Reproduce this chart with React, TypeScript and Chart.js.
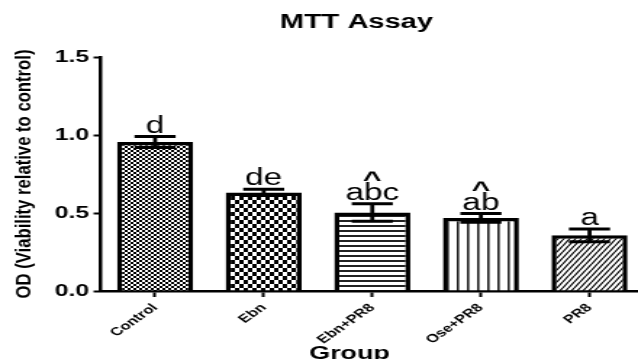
import React, { useEffect, useRef } from 'react';
import { Chart, registerables } from 'chart.js';

Chart.register(...registerables);

// ---- data ----
const categories = ['Control', 'Ebn', 'Ebn+PR8', 'Ose+PR8', 'PR8'];
const means = [0.955, 0.632, 0.503, 0.468, 0.357];
const errors = [0.035, 0.02, 0.056, 0.028, 0.041];
const letters = ['d', 'de', 'abc', 'ab', 'a'];
const carets = ['', '', '^', '^', ''];
const yTicks = [0, 0.5, 1.0, 1.5];
const patternKinds = ['fineChecker', 'checker', 'hlines', 'vlines', 'diagonal'];
const chartTitle = 'MTT Assay';
const xTitle = 'Group';
const yTitle = 'OD (Viability relative to control)';

const S = 1.45; // horizontal stretch of the whole picture
const W = 444;
const H = 359;
const FONT = "'Liberation Sans', Arial, Helvetica, sans-serif";

function makePattern(kind: string, ctx: CanvasRenderingContext2D): CanvasPattern | string {
  const c = document.createElement('canvas');
  let w = 4;
  let h = 4;
  if (kind === 'checker') { w = 6; h = 8; }
  if (kind === 'hlines') { w = 4; h = 5; }
  if (kind === 'vlines') { w = 7; h = 4; }
  if (kind === 'diagonal') { w = 4; h = 6; }
  c.width = w;
  c.height = h;
  const g = c.getContext('2d')!;
  g.fillStyle = '#fff';
  g.fillRect(0, 0, w, h);
  g.fillStyle = '#000';
  g.strokeStyle = '#000';
  if (kind === 'fineChecker') {
    g.fillRect(0, 0, 2, 2);
    g.fillRect(2, 2, 2, 2);
  } else if (kind === 'checker') {
    g.fillRect(0, 0, 3, 4);
    g.fillRect(3, 4, 3, 4);
  } else if (kind === 'hlines') {
    g.fillStyle = '#222';
    g.fillRect(0, 0, w, 2);
  } else if (kind === 'vlines') {
    g.fillStyle = '#222';
    g.fillRect(0, 0, 1.6, h);
  } else if (kind === 'diagonal') {
    g.lineWidth = 1.2;
    g.beginPath();
    for (let k = -1; k <= 1; k++) {
      g.moveTo(k * w, h);
      g.lineTo(k * w + w, 0);
    }
    g.stroke();
  }
  return ctx.createPattern(c, 'repeat') || '#888';
}

const annotPlugin = {
  id: 'annot',
  afterDatasetsDraw(chart: any) {
    const { ctx } = chart;
    const x = chart.scales.x;
    const y = chart.scales.y;
    const meta = chart.getDatasetMeta(0);
    ctx.save();
    ctx.strokeStyle = '#000';
    ctx.fillStyle = '#000';
    means.forEach((m, i) => {
      const bar: any = meta.data[i];
      const cx = x.getPixelForValue(i);
      const hi = y.getPixelForValue(m + errors[i]);
      const lo = y.getPixelForValue(m - errors[i]);
      const capHalf = bar.width * 0.27;
      ctx.lineWidth = 2.8;
      ctx.beginPath();
      ctx.moveTo(cx, hi);
      ctx.lineTo(cx, lo);
      ctx.stroke();
      ctx.lineWidth = 3;
      ctx.beginPath();
      ctx.moveTo(cx - capHalf, hi);
      ctx.lineTo(cx + capHalf, hi);
      ctx.moveTo(cx - capHalf, lo);
      ctx.lineTo(cx + capHalf, lo);
      ctx.stroke();
      ctx.textAlign = 'center';
      ctx.textBaseline = 'alphabetic';
      ctx.font = `23px ${FONT}`;
      const base = hi - 4;
      ctx.fillText(letters[i], cx, base);
      if (carets[i]) {
        ctx.font = `bold 22px ${FONT}`;
        ctx.fillText(carets[i], cx, base - 13);
      }
    });
    ctx.restore();
  },
  afterDraw(chart: any) {
    const { ctx, chartArea: ca } = chart;
    const cw = ca.right - ca.left;
    ctx.save();
    ctx.fillStyle = '#000';
    ctx.textAlign = 'center';
    ctx.textBaseline = 'alphabetic';
    ctx.font = `bold 20px ${FONT}`;
    ctx.fillText(chartTitle, ca.left + 0.4707 * cw, 28);
    ctx.font = `bold 18.5px ${FONT}`;
    ctx.fillText(xTitle, ca.left + 0.458 * cw, 359);
    ctx.translate(16.8, (ca.top + ca.bottom) / 2);
    ctx.rotate(-Math.PI / 2);
    ctx.scale(1.15, 1);
    ctx.font = `bold 14.5px ${FONT}`;
    ctx.textBaseline = 'middle';
    ctx.fillText(yTitle, 0, 0);
    ctx.restore();
  },
};

export default function App() {
  const ref = useRef<HTMLCanvasElement | null>(null);

  useEffect(() => {
    document.body.style.margin = '0';
    const canvas = ref.current;
    if (!canvas) return;
    const ctx = canvas.getContext('2d')!;
    const patterns = patternKinds.map((k) => makePattern(k, ctx));
    const chart = new Chart(canvas, {
      type: 'bar',
      data: {
        labels: categories,
        datasets: [
          {
            data: means,
            backgroundColor: patterns as any,
            borderColor: '#000',
            borderWidth: 3.5,
            borderSkipped: 'start',
            barPercentage: 0.7,
            categoryPercentage: 1,
          },
        ],
      },
      options: {
        animation: false,
        responsive: true,
        maintainAspectRatio: false,
        layout: { padding: { top: 57, right: 0, left: 0, bottom: 0 } },
        plugins: {
          legend: { display: false },
          title: { display: false },
          tooltip: { enabled: false },
        },
        scales: {
          x: {
            offset: true,
            grid: {
              display: true,
              offset: false,
              drawOnChartArea: false,
              drawTicks: true,
              tickLength: 6,
              tickWidth: 2,
              tickColor: '#000',
              color: '#000',
            },
            border: { display: true, color: '#000', width: 2.5 },
            ticks: {
              color: '#000',
              font: { family: FONT, size: 11.5, weight: 'bold' },
              minRotation: 45,
              maxRotation: 45,
              padding: 4,
              autoSkip: false,
            },
            afterFit: (s: any) => {
              s.height = 68;
              s.paddingLeft = 0;
              s.paddingRight = 0;
            },
          },
          y: {
            min: 0,
            max: 1.5,
            afterBuildTicks: (s: any) => {
              s.ticks = yTicks.map((v) => ({ value: v }));
            },
            grid: {
              display: true,
              drawOnChartArea: false,
              drawTicks: true,
              tickLength: 5,
              tickWidth: 2,
              tickColor: '#000',
              color: '#000',
            },
            border: { display: true, color: '#000', width: 2.5 },
            ticks: {
              color: '#000',
              font: { family: FONT, size: 17, weight: 'bold' },
              padding: 3,
              callback: (v: any) => Number(v).toFixed(1),
            },
            afterFit: (s: any) => {
              s.width = 69.5;
            },
          },
        },
      },
      plugins: [annotPlugin],
    } as any);
    return () => chart.destroy();
  }, []);

  return (
    <div style={{ width: 638, height: H, overflow: 'hidden', position: 'relative', background: '#fff' }}>
      <div
        style={{
          width: W,
          height: H,
          transform: `scaleX(${S})`,
          transformOrigin: '0 0',
          position: 'relative',
        }}
      >
        <canvas ref={ref} />
      </div>
    </div>
  );
}
